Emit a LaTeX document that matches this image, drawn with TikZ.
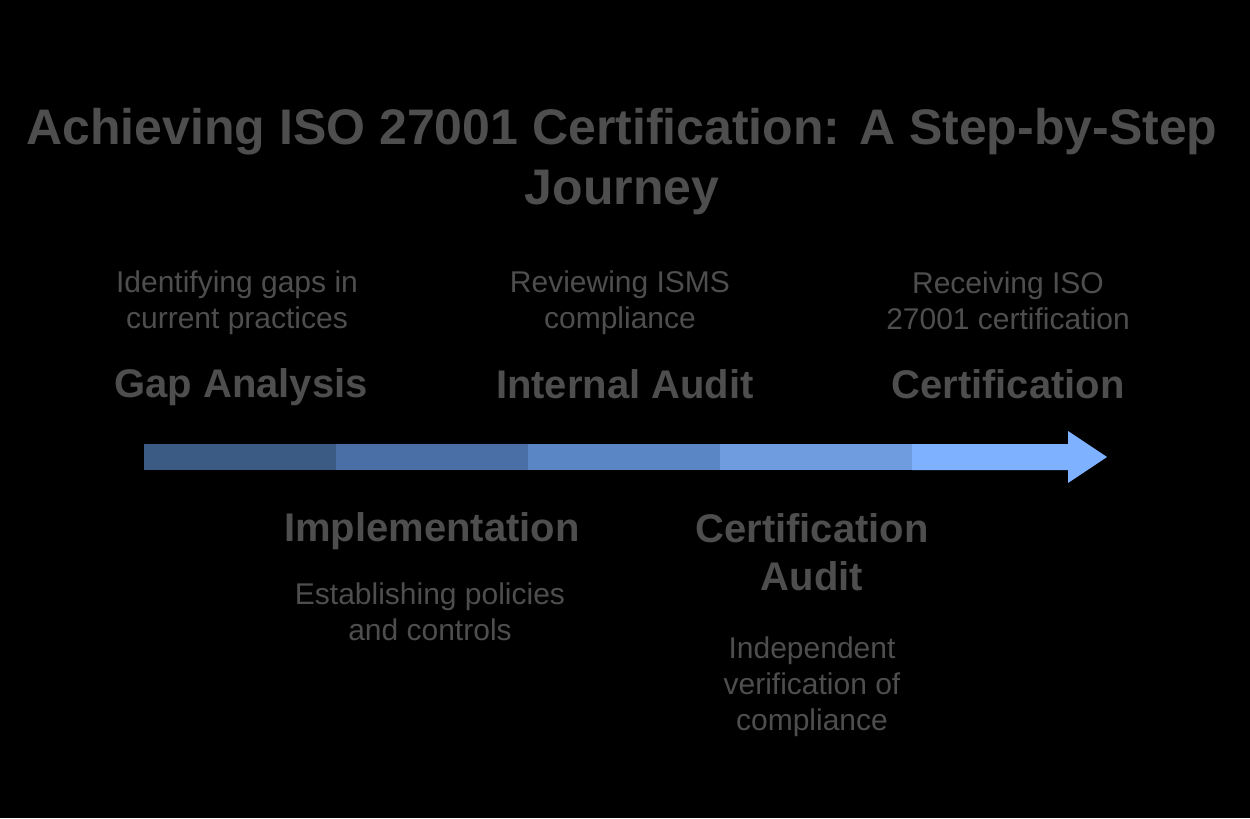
\documentclass[tikz,border=0pt]{standalone}
\usepackage{fontspec}
\setmainfont{Liberation Sans}
\usepackage{tikz}
\definecolor{txtgray}{HTML}{4E4E4E}
\definecolor{segA}{HTML}{3B5A84}
\definecolor{segB}{HTML}{4A6EA6}
\definecolor{segC}{HTML}{5B86C6}
\definecolor{segD}{HTML}{6E9CDE}
\definecolor{segE}{HTML}{7EB1FF}
\tikzset{every node/.style={inner sep = 0pt, align = center, text = txtgray}}
\tikzset{headline/.style={font=\fontsize{37.5}{45}\selectfont\bfseries}}
\tikzset{stage/.style={font=\fontsize{30}{36}\selectfont\bfseries}}
\tikzset{note/.style={font=\fontsize{22.5}{27}\selectfont}}

\begin{document}
\begin{tikzpicture}[x=0.75pt, y=-0.75pt]
\fill[black] (0,0) rectangle (1250,818);
\useasboundingbox (0,0) rectangle (1250,818);
\node[headline] (title) at (622,162) {Achieving ISO 27001 Certification: A Step-by-Step\\Journey};
% timeline bar
\foreach \i/\c in {0/segA,1/segB,2/segC,3/segD} {
\pgfmathsetmacro{\xa}{144 + 192*\i}
\fill[\c] (\xa,444) rectangle (\xa+192,470);
}
\fill[segE] (912,444) -- (1068,444) -- (1068,431) -- (1107,457) -- (1068,483) -- (1068,470) -- (912,470) -- cycle;
% stages above
\node[note] (gapdesc) at (237,303) {Identifying gaps in\\current practices};
\node[stage] (gap) at (241,387) {Gap Analysis};
\node[note] (auditdesc) at (620,303) {Reviewing ISMS\\compliance};
\node[stage] (audit) at (625,384) {Internal Audit};
\node[note] (certdesc) at (1008,301) {Receiving ISO\\27001 certification};
\node[stage] (cert) at (1008,384) {Certification};
% stages below
\node[stage] (impl) at (432,531) {Implementation};
\node[note] (impldesc) at (430,612) {Establishing policies\\and controls};
\node[stage] (caudit) at (812,552) {Certification\\Audit};
\node[note] (cauditdesc) at (812,687) {Independent\\verification of\\compliance};
\end{tikzpicture}
\end{document}
